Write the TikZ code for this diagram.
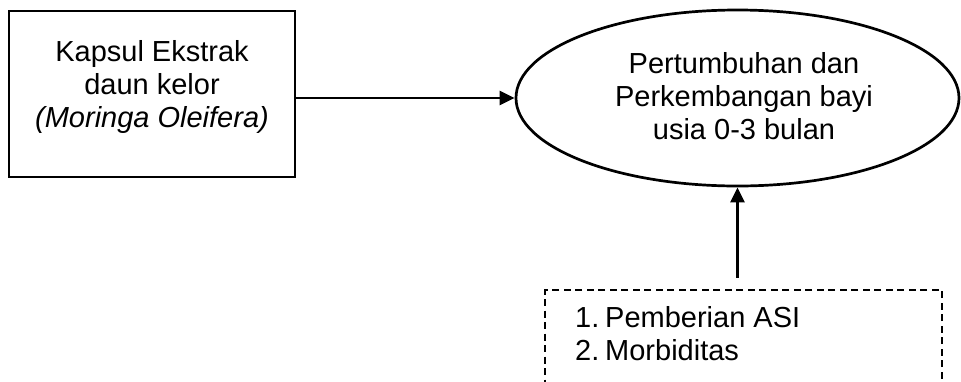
\documentclass[tikz,border=0pt]{standalone}
\usepackage{fontspec}
\setmainfont{Liberation Sans}
\usetikzlibrary{shapes.geometric,arrows.meta}
\begin{document}
\begin{tikzpicture}[x=1pt,y=-1pt,
  line/.style={line width=2.7pt,draw=black},
  arr/.style={line, -{Triangle[length=15pt,width=14pt]}},
  txt/.style={align=center,inner sep=0pt,font=\fontsize{29}{33}\selectfont},
  boxstyle/.style={line,rectangle,inner sep=0pt},
  dashbox/.style={line,rectangle,inner sep=0pt,dash pattern=on 7pt off 4.5pt}]
\useasboundingbox (0,0) rectangle (961,381);
% left box
\node[boxstyle,minimum width=286pt,minimum height=166pt] (kapsul) at (152,94) {};
\node[txt] (kapsultext) at (152,87) {Kapsul Ekstrak\\daun kelor\\\textit{(Moringa Oleifera)}};
% ellipse
\node[line,ellipse,inner sep=0pt,minimum width=443pt,minimum height=176pt] (tumbuh) at (737.5,98) {};
\node[txt] (tumbuhtext) at (744,96) {Pertumbuhan dan\\Perkembangan bayi\\usia 0-3 bulan};
% dashed box
\node[dashbox,minimum width=397pt,minimum height=140pt] (faktor) at (743.5,360) {};
\node[txt,align=left,anchor=base west] (faktortext) at (575,360) {\makebox[30pt][l]{1.}Pemberian ASI\\\makebox[30pt][l]{2.}Morbiditas};
% arrows
\draw[arr] (kapsul.east |- tumbuh.west) -- (tumbuh.west);
\draw[arr,shorten <=11pt] (tumbuh.south |- faktor.north) -- (tumbuh.south);
\end{tikzpicture}
\end{document}
